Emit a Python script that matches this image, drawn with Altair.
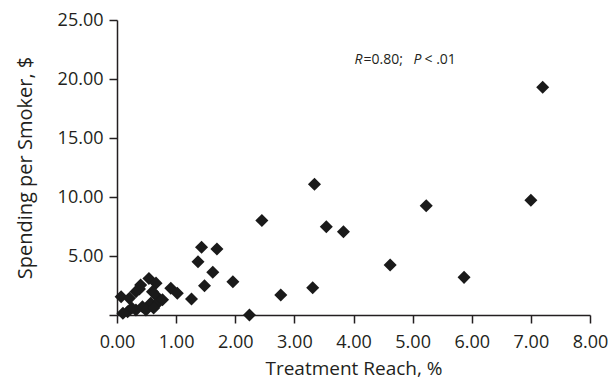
import altair as alt
import pandas as pd

reach = [7.20, 3.34, 2.45, 3.54, 3.83, 5.23, 7.00, 4.62, 5.87, 2.77, 3.31, 2.24,
         1.43, 1.69, 1.37, 1.62, 1.96, 1.48, 1.26, 0.91, 1.02,
         0.07, 0.54, 0.66, 0.40, 0.32, 0.21, 0.60, 0.68, 0.57, 0.43, 0.32, 0.18,
         0.10, 0.49, 0.71, 0.77, 0.62, 0.25, 0.38]
spending = [19.3, 11.08, 8.0, 7.48, 7.06, 9.26, 9.72, 4.24, 3.19, 1.69, 2.31, 0.0,
            5.74, 5.59, 4.52, 3.62, 2.82, 2.48, 1.36, 2.26, 1.84,
            1.55, 3.1, 2.7, 2.54, 1.98, 1.41, 1.98, 1.55, 0.99, 0.70, 0.42, 0.28,
            0.14, 0.42, 1.13, 1.3, 0.6, 0.6, 2.2]

x_ticks = [0, 1, 2, 3, 4, 5, 6, 7, 8]
y_ticks = [0, 5, 10, 15, 20, 25]

FONT = "Open Sans"
df = pd.DataFrame({"reach": reach, "spending": spending})

points = alt.Chart(df).mark_point(shape="diamond", filled=True, color="#1a1a1a",
                                  size=170, opacity=1).encode(
    x=alt.X("reach:Q", scale=alt.Scale(domain=[0, 8], nice=False),
            axis=alt.Axis(values=x_ticks, format=".2f", title="Treatment Reach, %",
                          grid=False, tickSize=8, labelPadding=10, titlePadding=8,
                          labelFlush=False, labelOverlap=False, titleFontSize=19)),
    y=alt.Y("spending:Q", scale=alt.Scale(domain=[0, 25], nice=False),
            axis=alt.Axis(values=y_ticks, format=".2f",
                          labelExpr="datum.value == 0 ? '' : format(datum.value, '.2f')",
                          title="Spending per Smoker, $", labelFlush=False,
                          grid=False, tickSize=8, labelPadding=6, titlePadding=22,
                          titleFontSize=20)),
)

ann = [
    ("R", 237.5, "italic"),
    ("=0.80;", 246.5, "normal"),
    ("P", 296.5, "italic"),
    ("< .01", 307.5, "normal"),
]
layers = [points]
for txt, xp, style in ann:
    layers.append(
        alt.Chart(pd.DataFrame({"t": [txt]})).mark_text(
            align="left", baseline="middle", fontSize=14, font=FONT,
            fontStyle=style, color="#231f20"
        ).encode(x=alt.value(xp), y=alt.value(40), text="t:N")
    )

chart = alt.layer(*layers).properties(
    width=473, height=295,
    padding={"left": 109, "top": 12, "right": 18, "bottom": 64},
    autosize=alt.AutoSizeParams(type="none"),
).configure_view(stroke=None).configure_axis(
    domainColor="#231f20", tickColor="#231f20", domainWidth=1.5, tickWidth=1.5,
    labelColor="#231f20", titleColor="#231f20", labelFont=FONT, titleFont=FONT,
    labelFontSize=18, titleFontWeight="normal",
)

chart.save("out.html", embed_options={"renderer": "svg", "actions": False})
